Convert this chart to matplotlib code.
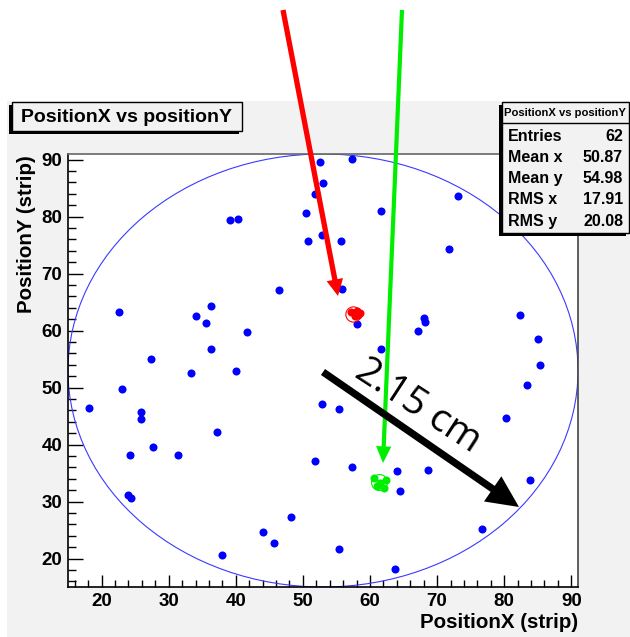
import numpy as np
import matplotlib.pyplot as plt
from matplotlib.patches import Rectangle, Circle, FancyArrowPatch
from matplotlib.ticker import MultipleLocator

W, H, DPI = 630, 637, 100

# blue hits, strip units
pos_x = [52.5, 57.3, 53.0, 51.8, 50.4, 52.8, 50.8, 55.7, 39.1, 40.3,
         61.7, 73.1, 71.8, 46.5, 55.8, 22.6, 36.3, 34.1, 35.5, 41.7,
         36.3, 27.4, 40.0, 33.4, 23.0, 18.1, 25.9, 25.9, 37.2, 27.6,
         24.3, 31.4, 52.9, 55.4, 51.8, 57.3, 23.9, 24.4, 48.2, 44.1,
         45.7, 38.0, 55.4, 63.7, 76.7, 83.8, 64.0, 68.6, 64.5, 80.3,
         83.4, 85.3, 85.0, 82.3, 68.0, 68.2, 67.1, 61.7, 58.1]
pos_y = [89.6, 90.1, 85.9, 83.9, 80.6, 76.8, 75.8, 75.8, 79.4, 79.6,
         81.0, 83.7, 74.3, 67.1, 67.3, 63.3, 64.3, 62.5, 61.4, 59.7,
         56.8, 55.0, 52.9, 52.5, 49.8, 46.4, 45.7, 44.4, 42.2, 39.6,
         38.2, 38.2, 47.2, 46.2, 37.1, 36.1, 31.2, 30.6, 27.2, 24.7,
         22.8, 20.6, 21.7, 18.1, 25.1, 33.7, 35.4, 35.5, 31.8, 44.7,
         50.5, 53.9, 58.6, 62.8, 62.3, 61.5, 59.9, 56.8, 61.2]

red_x = [57.2, 58.0, 58.5, 57.7, 58.2]
red_y = [63.2, 63.4, 63.1, 62.5, 62.8]
red_ring_x, red_ring_y = [57.5], [62.9]
green_x = [60.6, 61.45, 62.35, 62.05, 61.05]
green_y = [34.16, 33.28, 33.74, 32.4, 32.8]
green_ring_x, green_ring_y = [61.3], [33.4]

circle_center = (53.0, 53.0)
circle_radius = 38.0

x_range = (15, 91)
y_range = (15, 91)

title = 'PositionX vs positionY'
stats_names = ['Entries', 'Mean x', 'Mean y', 'RMS x', 'RMS y']
stats_values = ['62', '50.87', '54.98', '17.91', '20.08']

GRAY = '#f2f2f2'
BOLD = dict(family=['Liberation Sans', 'DejaVu Sans'], weight='bold')


def fx(px):
    return px / W


def fy(py):
    return 1 - py / H


def box(x0, y0, x1, y1, shadow=3):
    # ROOT-like pave with a shadow down-left
    fig.add_artist(Rectangle((fx(x0 - shadow), fy(y1 + shadow)), (x1 - x0) / W, (y1 - y0) / H,
                             transform=fig.transFigure, facecolor='black', edgecolor='none', zorder=5))
    fig.add_artist(Rectangle((fx(x0), fy(y1)), (x1 - x0) / W, (y1 - y0) / H,
                             transform=fig.transFigure, facecolor=GRAY, edgecolor='black', lw=1, zorder=6))


fig = plt.figure(figsize=(W / DPI, H / DPI), dpi=DPI)
fig.patch.set_facecolor('white')
fig.add_artist(Rectangle((fx(7), 0), (W - 7) / W, fy(101), transform=fig.transFigure,
                         facecolor=GRAY, edgecolor='none', zorder=0))

ax = fig.add_axes([fx(68), fy(587), 510 / W, 433 / H])
ax.set_facecolor('white')
ax.set_xlim(*x_range)
ax.set_ylim(*y_range)

ax.add_patch(Circle(circle_center, circle_radius, fill=False, edgecolor='#3a3aff', lw=0.8, zorder=2))
ax.plot(pos_x, pos_y, 'o', color='blue', ms=5.8, mew=0, zorder=3)
ax.plot(red_x, red_y, 'o', color='red', ms=5.8, mew=0, zorder=4)
ax.plot(red_ring_x, red_ring_y, 'o', mfc='none', mec='red', ms=11, mew=0.8, zorder=4)
ax.plot(green_x, green_y, 'o', color='#00ee00', ms=5.8, mew=0, zorder=4)
ax.plot(green_ring_x, green_ring_y, 'o', mfc='none', mec='#00ee00', ms=11.5, mew=0.8, zorder=4)

ax.xaxis.set_major_locator(MultipleLocator(10))
ax.xaxis.set_minor_locator(MultipleLocator(2))
ax.yaxis.set_major_locator(MultipleLocator(10))
ax.yaxis.set_minor_locator(MultipleLocator(2))
ax.tick_params(axis='x', which='major', direction='in', length=9, width=1, pad=4, top=False)
ax.tick_params(axis='x', which='minor', direction='in', length=5, width=1, top=False)
ax.tick_params(axis='y', which='major', direction='in', length=11, width=1, pad=4, right=False)
ax.tick_params(axis='y', which='minor', direction='in', length=6, width=1, right=False)
for lab in ax.get_xticklabels() + ax.get_yticklabels():
    lab.set_family(['Liberation Sans', 'DejaVu Sans'])
    lab.set_weight('bold')
    lab.set_fontsize(13.5)
ax.spines['left'].set_color('black')
ax.spines['bottom'].set_color('black')
ax.spines['top'].set_color('#666666')
ax.spines['right'].set_color('#444444')
for s in ax.spines.values():
    s.set_linewidth(1.2)

fig.text(fx(578), fy(622), 'PositionX (strip)', ha='right', va='center', fontsize=14.8, **BOLD)
fig.text(fx(27), fy(155), 'PositionY (strip)', ha='center', va='top', rotation=90, fontsize=14.8, **BOLD)

# title pave
box(12, 102, 242, 131)
fig.text(fx(21), fy(117), title, ha='left', va='center', fontsize=14, zorder=7, **BOLD)

# stats pave
box(502, 102, 629, 233)
fig.add_artist(plt.Line2D([fx(502), fx(629)], [fy(123), fy(123)], transform=fig.transFigure,
                          color='black', lw=1, zorder=7))
fig.text(fx(565), fy(113), title, ha='center', va='center', fontsize=8.1, zorder=7, **BOLD)
for i, (n, v) in enumerate(zip(stats_names, stats_values)):
    yy = fy(136 + i * 21.3)
    fig.text(fx(508), yy, n, ha='left', va='center', fontsize=11.5, zorder=7, **BOLD)
    fig.text(fx(623), yy, v, ha='right', va='center', fontsize=11.5, zorder=7, **BOLD)

# annotation arrows drawn over the plot
arrows = [((283, 10), (338, 296), 'red', 'simple,head_length=0.6,head_width=0.6,tail_width=0.19'),
          ((402, 10), (383, 463), '#00ee00', 'simple,head_length=0.6,head_width=0.55,tail_width=0.15'),
          ((323, 372), (519, 507), 'black', 'simple,head_length=1.15,head_width=1.1,tail_width=0.26')]
for (x0, y0), (x1, y1), c, st in arrows:
    fig.add_artist(FancyArrowPatch(
        (fx(x0), fy(y0)), (fx(x1), fy(y1)), transform=fig.transFigure,
        arrowstyle=st, mutation_scale=20, color=c, lw=0, shrinkA=0, shrinkB=0, zorder=10))

fig.text(fx(418), fy(406), '2.15 cm', ha='center', va='center', rotation=-33, rotation_mode='anchor',
         fontsize=28, family=['Open Sans', 'DejaVu Sans'], color='black', zorder=11)

fig.savefig('out.png', dpi=DPI)
